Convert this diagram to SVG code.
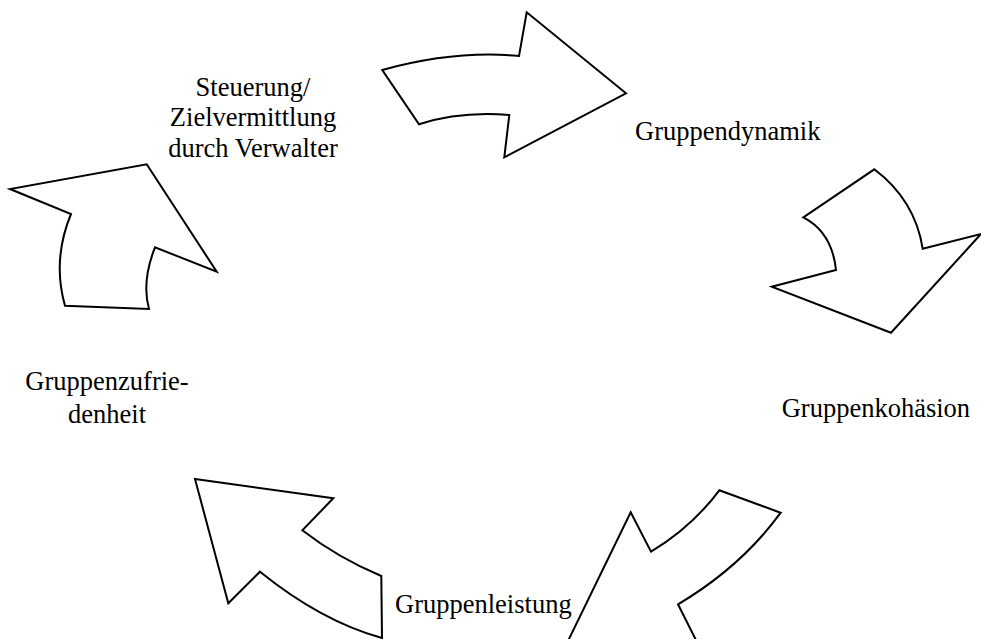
<svg xmlns="http://www.w3.org/2000/svg" width="981" height="639" viewBox="0 0 981 639">
<style>
.arrow{fill:#fff;stroke:#000;stroke-width:2;stroke-linejoin:miter}
.lbl{font-family:"Liberation Serif","Times New Roman",serif;font-size:26.5px;fill:#000}
</style>
<rect width="981" height="639" fill="#fff"/>
<g id="connectors">
<path id="arrow-top" class="arrow" d="M382.3,70 Q455,50 519,56 L526.7,12.3 L626,93.3 L504.3,157.3 L509.3,115 Q460,111 419,124.3 Z"/>
<path id="arrow-right" class="arrow" d="M874.3,169.3 Q915,200 922.7,248.7 L981,234 L891,332.7 L771.7,286.7 L836,270 Q832,232 803.3,217.3 Z"/>
<path id="arrow-lowright" class="arrow" d="M719.3,490.3 L780.7,512.7 Q741,567 678,604.3 L710,668 L549,680 L630.7,512.3 L651,551.7 Q692,527 719.3,490.3 Z"/>
<path id="arrow-lowleft" class="arrow" d="M195,479 L333.3,498.3 L302.3,530.3 Q338,558 381.3,576 L382,638 Q321,621 260,571.7 L228.3,603.3 Z"/>
<path id="arrow-left" class="arrow" d="M146.7,164.3 L216.7,271.7 L155,247.3 Q141.4,281.8 149,309 L65,305.7 Q52,260 71,214 L10,189 Z"/>
</g>
<g id="node-steuerung"><text class="lbl" text-anchor="middle" x="253" y="95.7">Steuerung/</text><text class="lbl" text-anchor="middle" x="253" y="126.2">Zielvermittlung</text><text class="lbl" text-anchor="middle" x="253" y="156.7">durch Verwalter</text></g>
<g id="node-dynamik"><text class="lbl" x="635" y="140">Gruppendynamik</text></g>
<g id="node-kohaesion"><text class="lbl" x="781.7" y="416.7">Gruppenkohäsion</text></g>
<g id="node-leistung"><text class="lbl" x="395" y="613.3">Gruppenleistung</text></g>
<g id="node-zufriedenheit"><text class="lbl" text-anchor="middle" x="107" y="390">Gruppenzufrie-</text><text class="lbl" text-anchor="middle" x="107" y="422.7">denheit</text></g>
</svg>
